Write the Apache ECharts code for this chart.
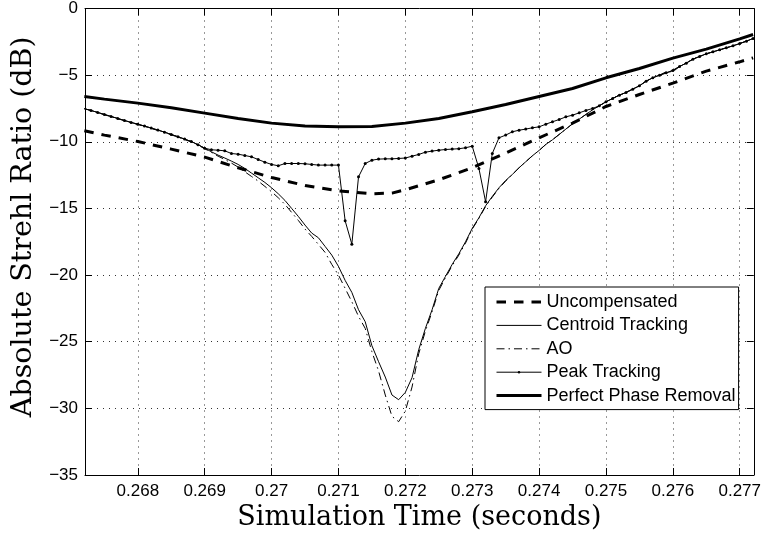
<!DOCTYPE html>
<html>
<head>
<meta charset="utf-8">
<script src="https://cdn.jsdelivr.net/npm/echarts@6/dist/echarts.min.js"></script>
<style>
html,body{margin:0;padding:0;background:#fff;}
#chart{width:764px;height:540px;}
</style>
</head>
<body>
<div id="chart"></div>
<script>
// ---- data ----
const X_MIN = 0.26721, X_MAX = 0.27721;
const xTicks = [0.268, 0.269, 0.270, 0.271, 0.272, 0.273, 0.274, 0.275, 0.276, 0.277];
const xTickLabels = ['0.268', '0.269', '0.27', '0.271', '0.272', '0.273', '0.274', '0.275', '0.276', '0.277'];
const yTicks = [0, -5, -10, -15, -20, -25, -30, -35];
const yTickLabels = ['0', '\u22125', '\u221210', '\u221215', '\u221220', '\u221225', '\u221230', '\u221235'];

// sample times (0.1 ms steps) for the three tracking curves
const simTime = [
  0.2672, 0.2673, 0.2674, 0.2675, 0.2676, 0.2677, 0.2678, 0.2679, 0.2680, 0.2681,
  0.2682, 0.2683, 0.2684, 0.2685, 0.2686, 0.2687, 0.2688, 0.2689, 0.2690, 0.2691,
  0.2692, 0.2693, 0.2694, 0.2695, 0.2696, 0.2697, 0.2698, 0.2699, 0.2700, 0.2701,
  0.2702, 0.2703, 0.2704, 0.2705, 0.2706, 0.2707, 0.2708, 0.2709, 0.2710, 0.2711,
  0.2712, 0.2713, 0.2714, 0.2715, 0.2716, 0.2717, 0.2718, 0.2719, 0.2720, 0.2721,
  0.2722, 0.2723, 0.2724, 0.2725, 0.2726, 0.2727, 0.2728, 0.2729, 0.2730, 0.2731,
  0.2732, 0.2733, 0.2734, 0.2735, 0.2736, 0.2737, 0.2738, 0.2739, 0.2740, 0.2741,
  0.2742, 0.2743, 0.2744, 0.2745, 0.2746, 0.2747, 0.2748, 0.2749, 0.2750, 0.2751,
  0.2752, 0.2753, 0.2754, 0.2755, 0.2756, 0.2757, 0.2758, 0.2759, 0.2760, 0.2761,
  0.2762, 0.2763, 0.2764, 0.2765, 0.2766, 0.2767, 0.2768, 0.2769, 0.2770, 0.2771,
  0.2772
];
const centroid = [
  -7.52, -7.65, -7.8, -7.95, -8.1, -8.25, -8.4, -8.55, -8.68, -8.82,
  -8.97, -9.12, -9.28, -9.45, -9.62, -9.8, -9.98, -10.22, -10.48, -10.75,
  -11.0, -11.22, -11.45, -11.7, -12.0, -12.35, -12.7, -13.05, -13.45, -13.9,
  -14.4, -15.0, -15.6, -16.25, -16.85, -17.2, -17.85, -18.5, -19.35, -20.4,
  -21.3, -22.6, -23.5, -25.3, -26.5, -27.65, -29.0, -29.35, -28.8, -27.7,
  -25.6, -24.0, -22.6, -21.0, -20.1, -19.2, -18.4, -17.5, -16.5, -15.7,
  -14.8, -14.1, -13.45, -12.9, -12.45, -11.95, -11.5, -11.05, -10.65, -10.2,
  -9.85, -9.45, -9.05, -8.65, -8.3, -7.95, -7.6, -7.3, -7.0, -6.75,
  -6.5, -6.3, -6.05, -5.8, -5.45, -5.2, -5.0, -4.85, -4.63, -4.35,
  -4.1, -3.8, -3.6, -3.4, -3.25, -3.1, -2.95, -2.8, -2.63, -2.45,
  -2.25
];
const ao = [
  -7.52, -7.65, -7.82, -7.97, -8.12, -8.27, -8.42, -8.57, -8.7, -8.85,
  -9.0, -9.15, -9.3, -9.48, -9.65, -9.83, -10.02, -10.26, -10.52, -10.8,
  -11.08, -11.33, -11.6, -11.9, -12.25, -12.6, -12.95, -13.35, -13.75, -14.2,
  -14.7, -15.3, -15.9, -16.55, -17.1, -17.7, -18.3, -19.2, -20.0, -21.0,
  -22.0, -23.1, -24.0, -25.75, -27.2, -29.0, -30.6, -31.0, -30.2, -28.4,
  -25.9, -24.2, -22.75, -21.15, -20.2, -19.3, -18.5, -17.6, -16.55, -15.75,
  -14.85, -14.15, -13.5, -12.95, -12.45, -11.95, -11.5, -11.05, -10.65, -10.2,
  -9.85, -9.45, -9.05, -8.65, -8.3, -7.95, -7.6, -7.3, -7.0, -6.75,
  -6.5, -6.3, -6.05, -5.8, -5.45, -5.2, -5.0, -4.75, -4.75, -4.35,
  -4.1, -3.8, -3.6, -3.4, -3.25, -3.1, -2.95, -2.8, -2.63, -2.45,
  -2.25
];
const peakTracking = [
  -7.52, -7.65, -7.8, -7.95, -8.1, -8.25, -8.4, -8.55, -8.68, -8.82,
  -8.97, -9.12, -9.28, -9.45, -9.62, -9.8, -9.98, -10.22, -10.48, -10.6,
  -10.63, -10.68, -10.88, -10.93, -11.03, -11.13, -11.33, -11.53, -11.7, -11.8,
  -11.63, -11.63, -11.63, -11.65, -11.7, -11.75, -11.75, -11.75, -11.75, -15.93,
  -17.68, -12.63, -11.63, -11.38, -11.3, -11.28, -11.28, -11.25, -11.22, -11.08,
  -10.95, -10.78, -10.7, -10.63, -10.58, -10.55, -10.52, -10.45, -10.33, -12.0,
  -14.5, -10.88, -9.7, -9.5, -9.25, -9.13, -9.05, -8.95, -8.88, -8.68,
  -8.5, -8.33, -8.13, -8.0, -7.83, -7.65, -7.5, -7.3, -7.0, -6.75,
  -6.5, -6.3, -6.05, -5.8, -5.45, -5.2, -5.0, -4.82, -4.66, -4.35,
  -4.1, -3.8, -3.6, -3.4, -3.25, -3.1, -2.95, -2.8, -2.63, -2.45,
  -2.25
];

// smoother curves read at 0.5 ms steps
const uncompTime = [0.2672, 0.2675, 0.2680, 0.2685, 0.2690, 0.2695, 0.2700, 0.2705, 0.2710, 0.2715, 0.2718,
  0.2720, 0.2725, 0.2730, 0.2735, 0.2740, 0.2745, 0.2750, 0.2755, 0.2760, 0.2765, 0.2770, 0.2772];
const uncomp = [-9.17, -9.5, -9.98, -10.55, -11.15, -11.95, -12.68, -13.28, -13.68, -13.9, -13.85,
  -13.6, -12.85, -11.95, -10.85, -9.7, -8.6, -7.35, -6.45, -5.6, -4.7, -4.0, -3.7];
const pprTime = [0.2672, 0.2675, 0.2680, 0.2685, 0.2690, 0.2695, 0.2700, 0.2705, 0.2710, 0.2715,
  0.2720, 0.2725, 0.2730, 0.2735, 0.2740, 0.2745, 0.2750, 0.2755, 0.2760, 0.2765, 0.2770, 0.2772];
const ppr = [-6.6, -6.8, -7.1, -7.45, -7.85, -8.25, -8.6, -8.82, -8.87, -8.85,
  -8.6, -8.25, -7.75, -7.2, -6.6, -6.0, -5.2, -4.5, -3.72, -3.05, -2.28, -1.95];

const seriesNames = ['Uncompensated', 'Centroid Tracking', 'AO', 'Peak Tracking', 'Perfect Phase Removal'];

// ---- chart ----
const zip = (xs, ys) => xs.map((x, i) => [x, ys[i]]);
const tickFont = { fontFamily: 'Liberation Sans, Arial, sans-serif', fontSize: 17, color: '#000' };
const gridLine = { show: true, lineStyle: { color: '#333', width: 1, type: [1, 5] } };
const styles = [
  { color: '#000', width: 3, type: [9.5, 8] },
  { color: '#000', width: 1, type: 'solid' },
  { color: '#000', width: 1, type: [8, 4, 1.5, 4] },
  { color: '#000', width: 1, type: 'solid' },
  { color: '#000', width: 3, type: 'solid' }
];
const hasMarker = [false, false, false, true, false];

const chart = echarts.init(document.getElementById('chart'), null, { renderer: 'canvas' });
chart.setOption({
  animation: false,
  backgroundColor: '#fff',
  grid: { left: 85, right: 7, top: 8, bottom: 65, containLabel: false },
  legend: {
    orient: 'vertical', left: 485, top: 287,
    itemWidth: 45, itemHeight: 3, itemGap: 5.4,
    padding: [6, 3, 5, 10],
    borderColor: '#000', borderWidth: 1, backgroundColor: '#fff',
    textStyle: { fontFamily: 'Liberation Sans, Arial, sans-serif', fontSize: 18, color: '#000' },
    data: seriesNames.map((n, i) => ({
      name: n,
      lineStyle: { width: styles[i].width, type: styles[i].type, color: '#000' },
      itemStyle: hasMarker[i] ? { color: '#000' } : { color: 'rgba(0,0,0,0)', borderWidth: 0 }
    }))
  },
  xAxis: [{
    type: 'value', min: X_MIN, max: X_MAX, position: 'bottom',
    name: 'Simulation Time (seconds)', nameLocation: 'middle', nameGap: 29,
    nameTextStyle: { fontFamily: 'DejaVu Serif, serif', fontSize: 27, color: '#000' },
    axisLine: { onZero: false, lineStyle: { color: '#000', width: 1 } },
    axisTick: { inside: true, length: 7, customValues: xTicks, lineStyle: { color: '#000' } },
    axisLabel: { customValues: xTicks, margin: 8, ...tickFont,
      formatter: v => xTickLabels[xTicks.findIndex(t => Math.abs(t - v) < 1e-7)] },
    splitLine: gridLine
  }, {
    type: 'value', min: X_MIN, max: X_MAX, position: 'top',
    axisLine: { onZero: false, lineStyle: { color: '#000', width: 1 } },
    axisTick: { inside: true, length: 7, customValues: xTicks, lineStyle: { color: '#000' } },
    axisLabel: { show: false }, splitLine: { show: false }
  }],
  yAxis: [{
    type: 'value', min: -35, max: 0, interval: 5, position: 'left',
    name: 'Absolute Strehl Ratio (dB)', nameLocation: 'middle', nameGap: 42,
    nameTextStyle: { fontFamily: 'DejaVu Serif, serif', fontSize: 28.5, color: '#000', padding: [0, 0, 0, 30] },
    axisLine: { onZero: false, lineStyle: { color: '#000', width: 1 } },
    axisTick: { inside: true, length: 7, lineStyle: { color: '#000' } },
    axisLabel: { margin: 7, ...tickFont,
      formatter: v => yTickLabels[yTicks.indexOf(Math.round(v))] },
    splitLine: gridLine
  }, {
    type: 'value', min: -35, max: 0, interval: 5, position: 'right',
    axisLine: { onZero: false, lineStyle: { color: '#000', width: 1 } },
    axisTick: { inside: true, length: 7, lineStyle: { color: '#000' } },
    axisLabel: { show: false }, splitLine: { show: false }
  }],
  series: [
    { name: seriesNames[0], type: 'line', data: zip(uncompTime, uncomp), symbol: 'none',
      lineStyle: styles[0], itemStyle: { color: '#000' } },
    { name: seriesNames[1], type: 'line', data: zip(simTime, centroid), symbol: 'none',
      lineStyle: styles[1], itemStyle: { color: '#000' } },
    { name: seriesNames[2], type: 'line', data: zip(simTime, ao), symbol: 'none',
      lineStyle: styles[2], itemStyle: { color: '#000' } },
    { name: seriesNames[3], type: 'line', data: zip(simTime, peakTracking), symbol: 'circle', symbolSize: 3,
      showAllSymbol: true, lineStyle: styles[3], itemStyle: { color: '#000' } },
    { name: seriesNames[4], type: 'line', data: zip(pprTime, ppr), symbol: 'none',
      lineStyle: styles[4], itemStyle: { color: '#000' } }
  ]
});
</script>
</body>
</html>
